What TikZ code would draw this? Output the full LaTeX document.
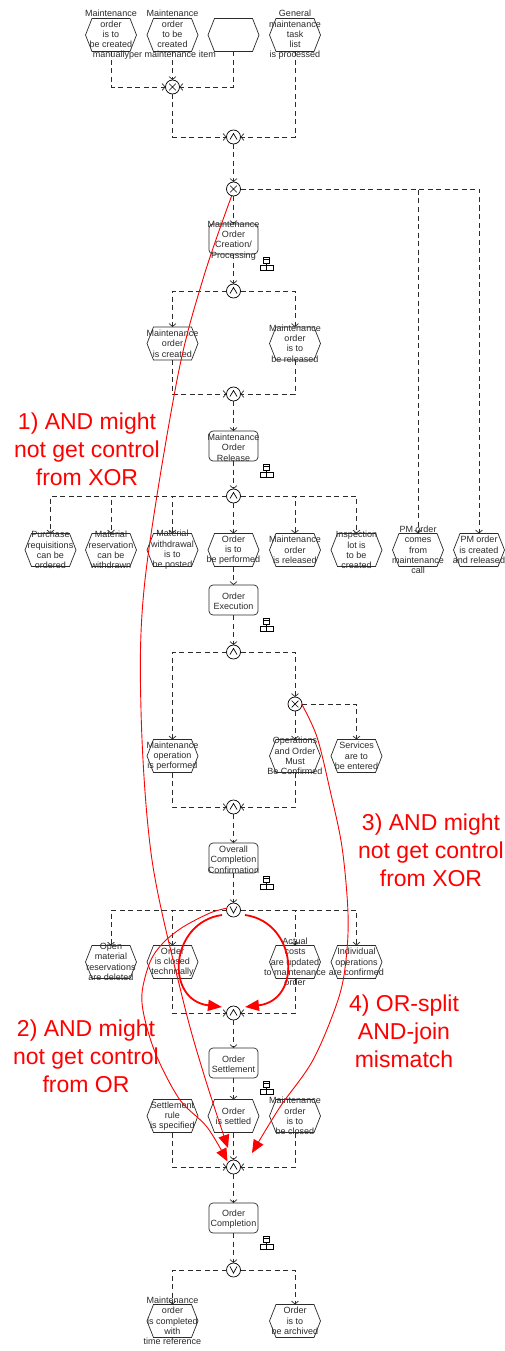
\documentclass[tikz,border=0pt]{standalone}
\usepackage{fontspec}
\setmainfont{Liberation Sans}
\usetikzlibrary{arrows.meta,calc}

\definecolor{ink}{HTML}{2B2B2B}
\definecolor{warn}{HTML}{FF0000}

\tikzset{
  evbox/.style={minimum width=51pt, minimum height=33pt, inner sep=0pt, outer sep=0pt},
  fnbox/.style={draw=ink, line width=0.7pt, rounded corners=4pt, minimum width=49pt, minimum height=30pt, inner sep=0pt, outer sep=0pt},
  shapeline/.style={draw=ink, line width=0.7pt, line join=miter},
  lbl/.style={font=\fontsize{9}{10.3}\selectfont, align=center, text=ink, inner sep=0pt},
  gate/.style={circle, draw=black, line width=0.7pt, minimum size=14pt, inner sep=0pt, outer sep=0pt, fill=white},
  andg/.style={gate, path picture={\draw[line width=0.7pt]
      ([shift={(-3.5,2.5)}]path picture bounding box.center) --
      ([shift={(0,-3.5)}]path picture bounding box.center) --
      ([shift={(3.5,2.5)}]path picture bounding box.center);}},
  org/.style={gate, path picture={\draw[line width=0.7pt]
      ([shift={(-3.5,-3.5)}]path picture bounding box.center) --
      ([shift={(0,3)}]path picture bounding box.center) --
      ([shift={(3.5,-3.5)}]path picture bounding box.center);}},
  xorg/.style={gate, path picture={\draw[line width=0.7pt]
      ([shift={(-3.3,-3.3)}]path picture bounding box.center) --
      ([shift={(3.3,3.3)}]path picture bounding box.center)
      ([shift={(-3.3,3.3)}]path picture bounding box.center) --
      ([shift={(3.3,-3.3)}]path picture bounding box.center);}},
  flow/.style={draw=ink, line width=0.7pt, dash pattern=on 5pt off 3.5pt,
      -{Straight Barb[length=3pt,width=7pt]}},
  issue/.style={draw=warn, line width=0.9pt, -{Triangle[length=13pt,width=11pt]}},
  bigissue/.style={draw=warn, line width=1.8pt, -{Triangle[length=14pt,width=11pt]}},
  issuetext/.style={text=warn, font=\fontsize{23}{27.8}\selectfont, align=center, inner sep=0pt},
  hier/.pic={\draw[black, line width=0.55pt]
      (-3,-6.5) rectangle (3,-0.5) (-3,-4.6) -- (3,-4.6) (0,-0.5) -- (0,2)
      (-6.5,2) rectangle (0,6.5) (0,2) rectangle (6.5,6.5);}
}

% event: hexagon with its text laid over it
\newcommand\eventnode[3]{%
  \node[evbox] (#1) at (#2) {};
  \draw[shapeline] (#1.west) -- ([xshift=6.5pt]#1.north west) -- ([xshift=-6.5pt]#1.north east)
    -- (#1.east) -- ([xshift=-6.5pt]#1.south east) -- ([xshift=6.5pt]#1.south west) -- cycle;
  \node[lbl] (#1-t) at (#1) {#3};}
% function: rounded box, text and hierarchy marker
\newcommand\funcnode[3]{%
  \node[fnbox] (#1) at (#2) {};
  \node[lbl, yshift=-1.5pt] (#1-t) at (#1) {#3};
  \pic at ([shift={(8.5,9.5)}]#1.south east) {hier};}

\begin{document}
\begin{tikzpicture}[x=1pt, y=-1pt]
\useasboundingbox[fill=white] (0,0) rectangle (505,1351);

% ---------- start events ----------
\eventnode{e1}{111,35}{Maintenance\\order\\is to\\be created\\manually}
\eventnode{e2}{172.5,35}{Maintenance\\order\\to be\\created\\per maintenance item}
\eventnode{e3}{233.5,35}{}
\eventnode{e4}{295,35}{General\\maintenance\\task\\list\\is processed}

\node[xorg] (xor1) at (172.5,87) {};
\node[andg] (and1) at (233.5,137) {};
\node[xorg] (xor2) at (233.5,189) {};

\funcnode{f1}{233.5,239}{Maintenance\\Order\\Creation/\\Processing}
\node[andg] (and2) at (233.5,291) {};
\eventnode{e5}{172.5,343.5}{Maintenance\\order\\is created}
\eventnode{e6}{295,343.5}{Maintenance\\order\\is to\\be released}
\node[andg] (and3) at (233.5,394) {};

\funcnode{f2}{233.5,446}{Maintenance\\Order\\Release}
\node[andg] (and4) at (233.5,496) {};

\eventnode{pr}{50.5,550}{Purchase\\requisitions\\can be\\ordered}
\eventnode{mr}{111,550}{Material\\reservation\\can be\\withdrawn}
\eventnode{mw}{172.5,550}{Material\\withdrawal\\is to\\be posted}
\eventnode{otp}{233.5,550}{Order\\is to\\be performed}
\eventnode{mor}{295,550}{Maintenance\\order\\is released}
\eventnode{ilc}{356.5,550}{Inspection\\lot is\\to be\\created}
\eventnode{pm1}{418,550}{PM order\\comes\\from\\maintenance\\call}
\eventnode{pm2}{479,550}{PM order\\is created\\and released}

\funcnode{f3}{233.5,600}{Order\\Execution}
\node[andg] (and5) at (233.5,652) {};
\node[xorg] (xor3) at (295,704) {};
\eventnode{mop}{172.5,756}{Maintenance\\operation\\is performed}
\eventnode{omc}{295,756}{Operations\\and Order\\Must\\Be Confirmed}
\eventnode{ste}{356.5,756}{Services\\are to\\be entered}
\node[andg] (and6) at (233.5,807) {};

\funcnode{f4}{233.5,858}{Overall\\Completion\\Confirmation}
\node[org] (or1) at (233.5,910) {};
\eventnode{omr}{111,962}{Open\\material\\reservations\\are deleted}
\eventnode{oct}{172.5,962}{Order\\is closed\\technically}
\eventnode{acu}{295,962}{Actual\\costs\\are updated\\to maintenance\\order}
\eventnode{ioc}{356.5,962}{Individual\\operations\\are confirmed}
\node[andg] (and7) at (233.5,1013) {};

\funcnode{f5}{233.5,1063}{Order\\Settlement}
\eventnode{srs}{172.5,1116}{Settlement\\rule\\is specified}
\eventnode{ois}{233.5,1116}{Order\\is settled}
\eventnode{mtc}{295,1116}{Maintenance\\order\\is to\\be closed}
\node[andg] (and8) at (233.5,1167) {};

\funcnode{f6}{233.5,1218}{Order\\Completion}
\node[org] (or2) at (233.5,1270) {};
\eventnode{mcw}{172.5,1321}{Maintenance\\order\\is completed\\with\\time reference}
\eventnode{ota}{295,1321}{Order\\is to\\be archived}

% ---------- control flow ----------
\draw[flow] (e1) |- (xor1);
\draw[flow] (e2) -- (xor1);
\draw[flow] (e3) |- (xor1);
\draw[flow] (xor1) |- (and1);
\draw[flow] (e4) |- (and1);
\draw[flow] (and1) -- (xor2);
\draw[flow] (xor2) -- (f1);
\draw[flow] (xor2) -| (pm1);
\draw[flow] (xor2) -| (pm2);

\draw[flow] (f1) -- (and2);
\draw[flow] (and2) -| (e5);
\draw[flow] (and2) -| (e6);
\draw[flow] (e5) |- (and3);
\draw[flow] (e6) |- (and3);
\draw[flow] (and3) -- (f2);
\draw[flow] (f2) -- (and4);

\draw[flow] (and4) -| (pr);
\draw[flow] (and4) -| (mr);
\draw[flow] (and4) -| (mw);
\draw[flow] (and4) -- (otp);
\draw[flow] (and4) -| (mor);
\draw[flow] (and4) -| (ilc);

\draw[flow] (otp) -- (f3);
\draw[flow] (f3) -- (and5);
\draw[flow] (and5) -| (mop);
\draw[flow] (and5) -| (xor3);
\draw[flow] (xor3) -- (omc);
\draw[flow] (xor3) -| (ste);
\draw[flow] (mop) |- (and6);
\draw[flow] (omc) |- (and6);
\draw[flow] (and6) -- (f4);
\draw[flow] (f4) -- (or1);

\draw[flow] (or1) -| (omr);
\draw[flow] (or1) -| (oct);
\draw[flow] (or1) -| (acu);
\draw[flow] (or1) -| (ioc);
\draw[flow] (oct) |- (and7);
\draw[flow] (acu) |- (and7);
\draw[flow] (and7) -- (f5);
\draw[flow] (f5) -- (ois);
\draw[flow] (ois) -- (and8);
\draw[flow] (srs) |- (and8);
\draw[flow] (mtc) |- (and8);
\draw[flow] (and8) -- (f6);
\draw[flow] (f6) -- (or2);
\draw[flow] (or2) -| (mcw);
\draw[flow] (or2) -| (ota);

% ---------- highlighted problems ----------
\coordinate (t1) at ($(and8)+(-5.5,-19)$);
\coordinate (t2) at ($(and8)+(-6,-5.5)$);
\coordinate (t3) at ($(and8)+(18.5,-14)$);
\coordinate (s4l) at ($(or1)+(-11.5,5)$);
\coordinate (s4r) at ($(or1)+(11.5,5)$);
\coordinate (t4l) at ($(and7)+(-11.5,-6)$);
\coordinate (t4r) at ($(and7)+(11.5,-6)$);

\draw[issue] plot[smooth, tension=0.55] coordinates
  {(xor2.255) (203,279) (177,380) (145,580) (141,710) (152,860) (183,1000) (205,1078) (t1)};
\draw[issue] plot[smooth, tension=0.55] coordinates
  {(or1.165) (210,913) (183,927) (163,943) (150,962) (142,993) (145,1020) (157,1057) (180,1100) (207,1127) (t2)};
\draw[issue] plot[smooth, tension=0.55] coordinates
  {(xor3.-5) (317,737) (330,790) (342,847) (348,913) (346,960) (338,1000) (313,1060) (280,1107) (t3)};
\draw[bigissue] (s4l) .. controls (170,922) and (164,1000) .. (t4l);
\draw[bigissue] (s4r) .. controls (297,922) and (303,1000) .. (t4r);

\node[issuetext] (n1) at (87,449) {1) AND might\\not get control\\from XOR};
\node[issuetext] (n2) at (86,1056) {2) AND might\\not get control\\from OR};
\node[issuetext] (n3) at (431,850) {3) AND might\\not get control\\from XOR};
\node[issuetext] (n4) at (404,1031) {4) OR-split\\AND-join\\mismatch};
\end{tikzpicture}
\end{document}
